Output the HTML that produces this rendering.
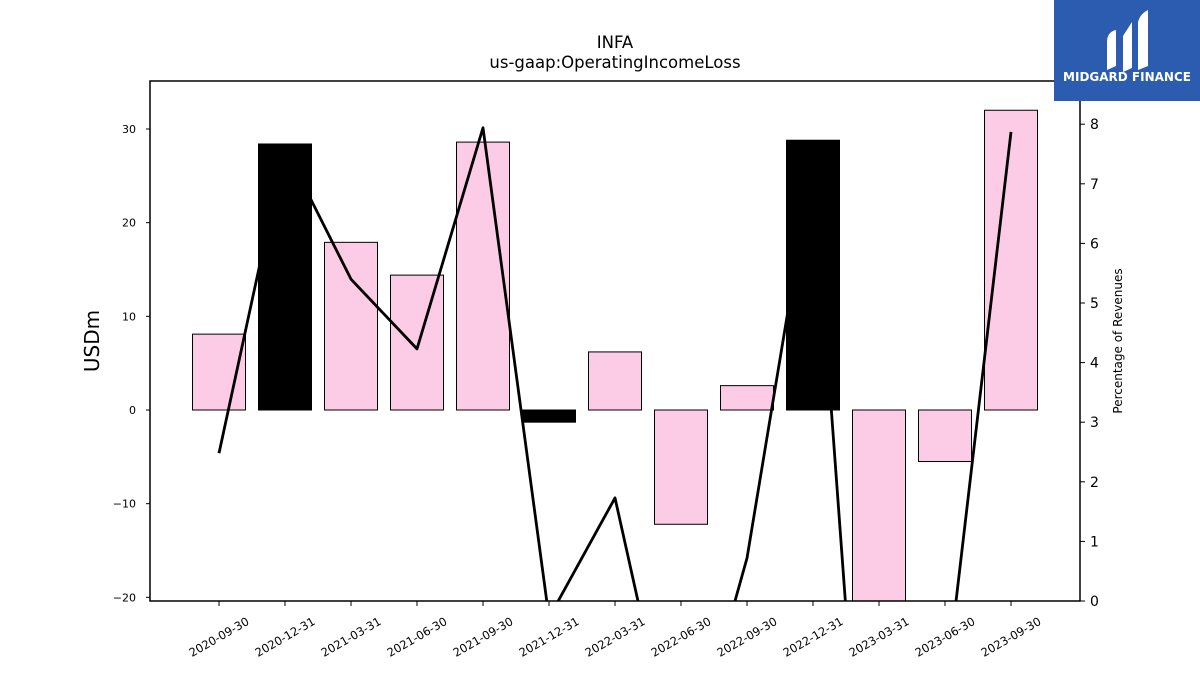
<!DOCTYPE html>
<html><head><meta charset="utf-8"><style>
html,body{margin:0;background:#fff;overflow:hidden;width:1200px;height:675px;font-family:"Liberation Sans","DejaVu Sans",sans-serif}
svg{display:block}
svg text{font-family:"DejaVu Sans","Liberation Sans",sans-serif}
</style></head><body>
<svg id="c" width="1200" height="675" xmlns="http://www.w3.org/2000/svg">
<text x="615" y="48" text-anchor="middle" font-size="16.5">INFA</text>
<text x="615" y="68" text-anchor="middle" font-size="16.5">us-gaap:OperatingIncomeLoss</text>
<text transform="translate(99,341) rotate(-90)" text-anchor="middle" font-size="20">USDm</text>
<text transform="translate(1122,341) rotate(-90)" text-anchor="middle" font-size="12">Percentage of Revenues</text>
<defs><clipPath id="pc"><rect x="150" y="81" width="930" height="520"/></clipPath></defs>
<g id="bars" clip-path="url(#pc)"></g>
<g id="line" clip-path="url(#pc)"></g>
<g id="bars2" clip-path="url(#pc)"></g>
<g id="axes"></g>
<g>
<rect x="1054" y="0" width="146" height="101" fill="#2b5cb0"/>
<path d="M1107 42 Q1107 32 1116 30 L1116 66 L1107 70 Z M1123 36 L1132 22 L1132 68 L1123 72 Z M1138 22 Q1140 14 1148 10 L1148 66 L1138 70 Z" fill="#fff"/>
<text x="1127" y="81" text-anchor="middle" font-size="12" font-weight="bold" fill="#fff" font-family="Liberation Sans">MIDGARD FINANCE</text>
</g>
</svg>
<script>
const categories=["2020-09-30","2020-12-31","2021-03-31","2021-06-30","2021-09-30","2021-12-31","2022-03-31","2022-06-30","2022-09-30","2022-12-31","2023-03-31","2023-06-30","2023-09-30"];
const barValues=[8.1,28.4,17.9,14.4,28.6,-1.3,6.2,-12.2,2.6,28.8,-25,-5.5,32.0];
const highlighted=[false,true,false,false,false,true,false,false,false,true,false,false,false];
const pctValues=[2.48,7.6,5.40,4.23,7.94,-0.28,1.73,-3.24,0.72,7.4,-7.7,-1.58,7.87];
const leftTicks=[-20,-10,0,10,20,30];
const rightTicks=[0,1,2,3,4,5,6,7,8];
const NS="http://www.w3.org/2000/svg";
const L=150,R=1080,T=81,B=601;
const yL=v=>410-v*9.367;
const yR=v=>601-v*59.6;
const xC=i=>219+i*66;
function mk(t,a,p){const e=document.createElementNS(NS,t);for(const k in a)e.setAttribute(k,a[k]);p.appendChild(e);return e;}
const bars=document.getElementById('bars'),bars2=document.getElementById('bars2'),line=document.getElementById('line'),axes=document.getElementById('axes');
barValues.forEach((v,i)=>{
  const y0=yL(0),y1=yL(v);
  const hi=highlighted[i];
  const r=mk('rect',{x:xC(i)-26.5,y:Math.min(y0,y1),width:53,height:Math.abs(y1-y0),fill:hi?'#000':'#fccbe5',stroke:'#000','stroke-width':1},hi?bars2:bars);
  
  
});
const pl=mk('polyline',{points:pctValues.map((v,i)=>xC(i)+','+yR(v)).join(' '),fill:'none',stroke:'#000','stroke-width':2.8,'stroke-linejoin':'round'},line);


const fr=mk('rect',{x:L,y:T,width:R-L,height:B-T,fill:'none',stroke:'#000','stroke-width':1.5},axes);


leftTicks.forEach(v=>{
  const y=yL(v);
  mk('line',{x1:L-4,x2:L,y1:y,y2:y,stroke:'#000'},axes);
  const t=mk('text',{x:L-14,y:y+4,'text-anchor':'end','font-size':11},axes);
  t.textContent=v<0?'\u2212'+(-v):v;
  
  
});
rightTicks.forEach(v=>{
  const y=yR(v);
  mk('line',{x1:R,x2:R+5,y1:y,y2:y,stroke:'#000'},axes);
  const t=mk('text',{x:R+10,y:y+5,'font-size':14},axes);
  t.textContent=v;
  
  
});
categories.forEach((c,i)=>{
  const x=xC(i);
  mk('line',{x1:x,x2:x,y1:B,y2:B+5,stroke:'#000'},axes);
  const cy=B+40;
  const t=mk('text',{x:x,y:cy,'text-anchor':'middle','font-size':11.5,transform:'rotate(-30 '+x+' '+(cy-4)+')'},axes);
  t.textContent=c;
  
  
});
</script>
</body></html>
